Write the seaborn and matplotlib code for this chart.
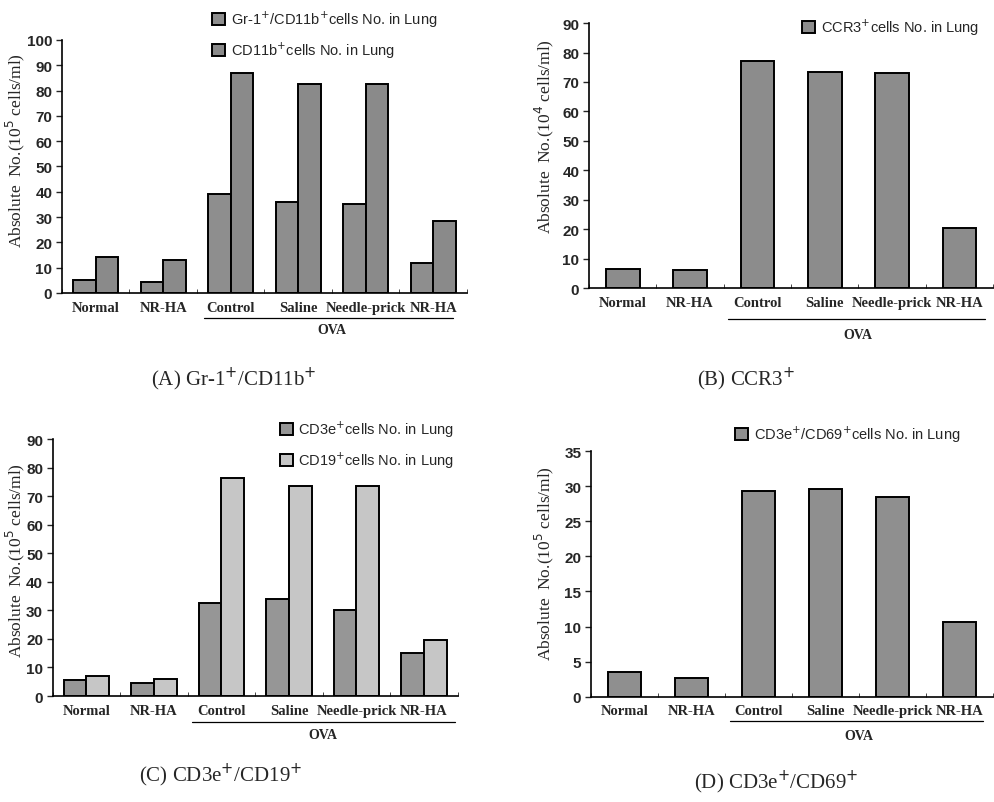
import pandas as pd
import matplotlib
matplotlib.use("Agg")
import matplotlib.pyplot as plt
import matplotlib.transforms as mtransforms
import seaborn as sns

groups = ["Normal", "NR-HA", "Control", "Saline", "Needle-prick", "NR-HA "]

# (A) Gr-1+/CD11b+
gr1_cd11b = [5, 4.5, 39, 36, 35, 12]
cd11b = [14, 13, 87, 82.5, 82.5, 28.5]
# (B) CCR3+
ccr3 = [6.5, 6, 77, 73.5, 73, 20.5]
# (C) CD3e+/CD19+
cd3e = [5.5, 4.5, 32.5, 34, 30, 15]
cd19 = [7, 6, 76.5, 73.5, 73.5, 19.5]
# (D) CD3e+/CD69+
cd3e_cd69 = [3.5, 2.7, 29.3, 29.6, 28.4, 10.6]

sns.set_style("white")
plt.rcParams["font.family"] = ["Liberation Sans", "DejaVu Sans"]

fig = plt.figure(figsize=(9.95, 8.03), dpi=100)

serif = "Liberation Serif"


def long_df(series):
    rows = []
    for name, vals in series:
        for g, v in zip(groups, vals):
            rows.append({"group": g, "series": name, "value": v})
    return pd.DataFrame(rows)


def panel(rect, series, colors, width, ymax, ystep, ylabel, ylab_xy,
          leg_anchor, ova_line, ova_y, caption, cap_xy):
    ax = fig.add_axes(rect)
    df = long_df(series)
    sns.barplot(data=df, x="group", y="value", hue="series", palette=colors,
                width=width, edgecolor="black", linewidth=1.4, ax=ax,
                saturation=1)
    ax.set_xlim(-0.5, 5.5)
    ax.set_ylim(0, ymax)
    ax.set_yticks(range(0, ymax + 1, ystep))
    for s in ["top", "right"]:
        ax.spines[s].set_visible(False)
    for s in ["left", "bottom"]:
        ax.spines[s].set_linewidth(1.2)
        ax.spines[s].set_color("black")
    ax.tick_params(axis="y", direction="out", length=4, width=1, left=True,
                   labelsize=11, pad=3)
    for lab in ax.get_yticklabels():
        lab.set_fontweight("bold")
    ax.tick_params(axis="x", bottom=False, pad=2)
    ax.set_xticks(range(len(groups)))
    ax.set_xticklabels([g.strip() for g in groups], fontfamily=serif,
                       fontweight="bold", fontsize=10.5)
    ax.set_xticks([i + 0.5 for i in range(-1, 6)], minor=True)
    ax.tick_params(axis="x", which="minor", direction="in", length=3,
                   bottom=True)
    ax.set_xlabel("")
    ax.set_ylabel(ylabel, fontfamily=serif, fontsize=12.5)
    ax.yaxis.set_label_coords(*ylab_xy)
    ax.legend(loc="upper left", bbox_to_anchor=leg_anchor, frameon=False,
              fontsize=10.5, borderpad=0, borderaxespad=0, handlelength=0.9,
              handleheight=0.9, handletextpad=0.4, labelspacing=0.75,
              title=None)
    trans = mtransforms.blended_transform_factory(ax.transData, ax.transAxes)
    ax.plot(ova_line, [ova_y[0], ova_y[0]], color="black", lw=0.9,
            transform=trans, clip_on=False)
    ax.text(3.5, ova_y[1], "OVA", transform=trans, ha="center", va="center",
            fontfamily=serif, fontweight="bold", fontsize=10)
    fig.text(cap_xy[0], cap_xy[1], caption, ha="center", va="center",
             fontfamily=serif, fontsize=15)
    return ax


panel([0.0623, 0.634, 0.407, 0.315],
      [("Gr-1$^{+}$/CD11b$^{+}$cells No. in Lung", gr1_cd11b),
       ("CD11b$^{+}$cells No. in Lung", cd11b)],
      ["#8e8e8e", "#8a8a8a"], 0.67, 100, 10,
      "Absolute  No.(10$^{5}$ cells/ml)", (-0.086, 0.565), (0.37, 1.125),
      [1.6, 5.3], (-0.099, -0.146),
      "(A) Gr-1$^{+}$/CD11b$^{+}$", (0.235, 0.527))

panel([0.592, 0.640, 0.406, 0.330],
      [("CCR3$^{+}$cells No. in Lung", ccr3)],
      ["#8c8c8c"], 0.5, 90, 10,
      "Absolute  No.(10$^{4}$ cells/ml)", (-0.082, 0.574), (0.527, 1.025),
      [1.57, 5.38], (-0.117, -0.174),
      "(B) CCR3$^{+}$", (0.75, 0.527))

panel([0.053, 0.132, 0.407, 0.320],
      [("CD3e$^{+}$cells No. in Lung", cd3e),
       ("CD19$^{+}$cells No. in Lung", cd19)],
      ["#969696", "#c6c6c6"], 0.67, 90, 10,
      "Absolute  No.(10$^{5}$ cells/ml)", (-0.064, 0.53), (0.56, 1.08),
      [1.56, 5.46], (-0.10, -0.148),
      "(C) CD3e$^{+}$/CD19$^{+}$", (0.222, 0.035))

panel([0.594, 0.131, 0.404, 0.306],
      [("CD3e$^{+}$/CD69$^{+}$cells No. in Lung", cd3e_cd69)],
      ["#8f8f8f"], 0.5, 35, 5,
      "Absolute  No.(10$^{5}$ cells/ml)", (-0.087, 0.545), (0.358, 1.11),
      [1.57, 5.35], (-0.10, -0.159),
      "(D) CD3e$^{+}$/CD69$^{+}$", (0.78, 0.026))

fig.savefig("out.png", dpi=100, facecolor="white")
